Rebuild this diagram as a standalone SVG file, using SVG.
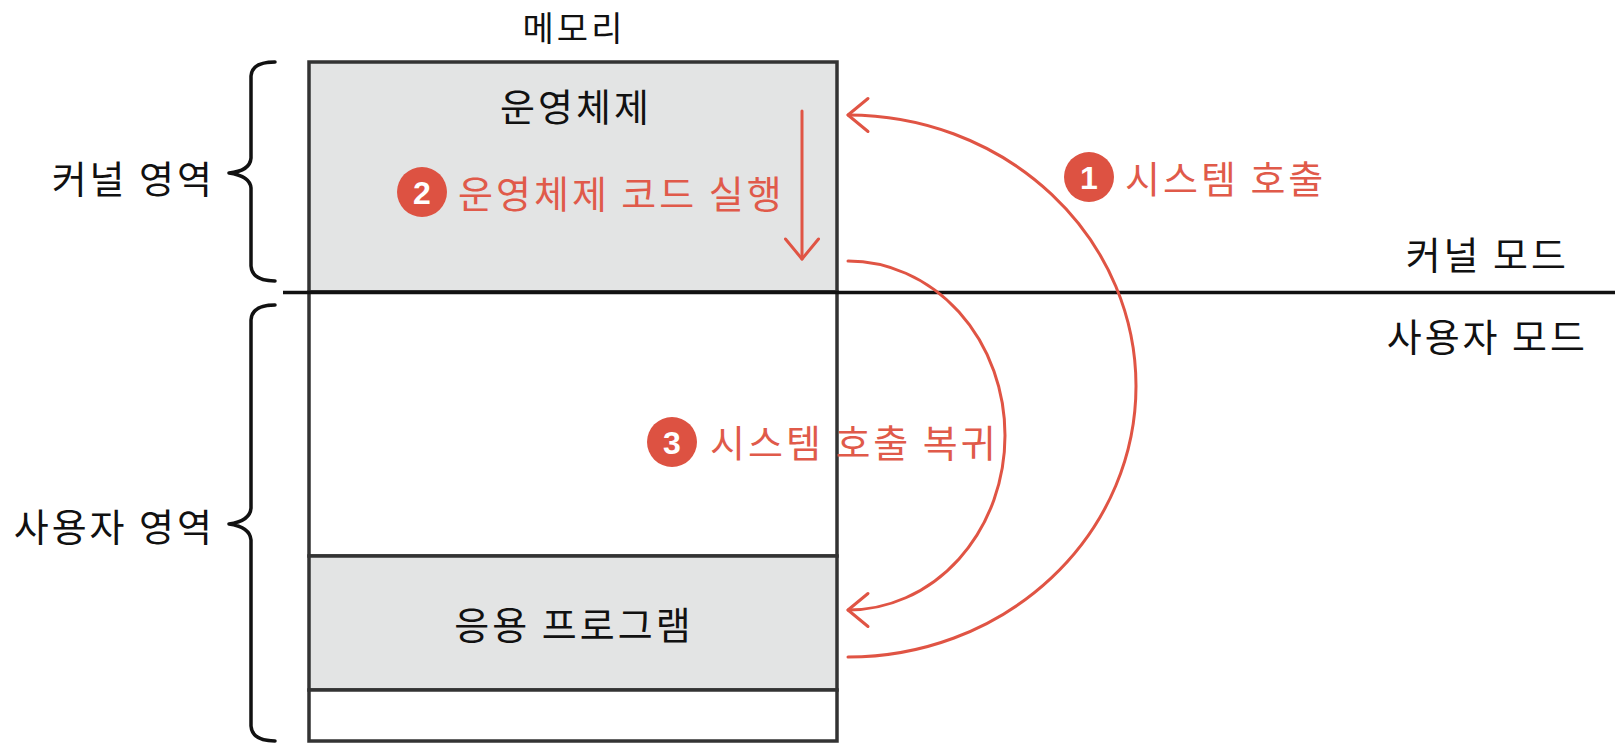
<svg xmlns="http://www.w3.org/2000/svg" width="1615" height="756" viewBox="0 0 1615 756">
<style>
.k{font-family:"Noto Sans CJK KR","Noto Sans CJK SC",sans-serif;font-size:38px;fill:#111;letter-spacing:3px}
.r{font-family:"Noto Sans CJK KR","Noto Sans CJK SC",sans-serif;font-size:38px;fill:#E05A4A;letter-spacing:3px}
.num{font-family:"Liberation Sans",Arial,sans-serif;font-weight:bold;font-size:32px;fill:#fff;text-anchor:middle}
.badge{fill:#DD5242}
.box{stroke:#333;stroke-width:3.5}
.gray{fill:#E3E4E4}
.wht{fill:#fff}
.conn{fill:none;stroke:#E05444;stroke-width:3;stroke-linecap:round}
.brace{fill:none;stroke:#111;stroke-width:3.5;stroke-linecap:round;stroke-linejoin:round}
</style>
<defs>
<marker id="ah" markerUnits="userSpaceOnUse" viewBox="-25 -20 30 40" markerWidth="30" markerHeight="40" refX="0" refY="0" orient="auto">
<path d="M-20,-16.5 L0,0 L-20,16.5" fill="none" stroke="#E05444" stroke-width="3" stroke-linecap="round" stroke-linejoin="round"/>
</marker>
</defs>
<rect width="1615" height="756" fill="#fff"/>

<g id="memory-title">
<text class="k" x="574" y="41" text-anchor="middle" style="font-size:34px">메모리</text>
</g>

<g id="kernel-area">
<rect class="box gray" x="309" y="62" width="528" height="230"/>
<text class="k" x="576" y="121" text-anchor="middle">운영체제</text>
</g>

<g id="user-area">
<rect class="box wht" x="309" y="292" width="528" height="264"/>
</g>

<g id="app-program">
<rect class="box gray" x="309" y="556" width="528" height="134"/>
<text class="k" x="574" y="639" text-anchor="middle">응용 프로그램</text>
</g>

<g id="bottom-area">
<rect class="box wht" x="309" y="690" width="528" height="51"/>
</g>

<g id="kernel-brace">
<path class="brace" d="M275,62 Q252,62 251,76 L251,158 Q250,171 229,173 Q250,176 251,188 L251,266 Q252,281 275,281"/>
<text class="k" x="215" y="193" text-anchor="end">커널 영역</text>
</g>

<g id="user-brace">
<path class="brace" d="M275,305 Q252,305 251,320 L251,508 Q250,521 229,524 Q250,527 251,540 L251,726 Q252,741 275,741"/>
<text class="k" x="215" y="541" text-anchor="end">사용자 영역</text>
</g>

<g id="mode-line">
<line x1="283" y1="292.5" x2="1615" y2="292.5" stroke="#111" stroke-width="3.5"/>
<text class="k" x="1569" y="269" text-anchor="end">커널 모드</text>
<text class="k" x="1588" y="351" text-anchor="end">사용자 모드</text>
</g>

<g id="connectors">
<path class="conn" d="M848,657 A288,271 0 0 0 848,115" marker-end="url(#ah)"/>
<path class="conn" d="M802,111 L802,259" marker-end="url(#ah)"/>
<path class="conn" d="M848,261 A157,174.5 0 0 1 848,610" marker-end="url(#ah)"/>
</g>

<g id="label-1">
<circle class="badge" cx="1089" cy="177" r="25"/>
<text class="num" x="1089" y="188.5">1</text>
<text class="r" x="1125" y="193">시스템 호출</text>
</g>

<g id="label-2">
<circle class="badge" cx="422" cy="192" r="25"/>
<text class="num" x="422" y="203.5">2</text>
<text class="r" x="458" y="208">운영체제 코드 실행</text>
</g>

<g id="label-3">
<circle class="badge" cx="672" cy="442" r="25"/>
<text class="num" x="672" y="453.5">3</text>
<text class="r" x="710" y="457">시스템 호출 복귀</text>
</g>
</svg>
